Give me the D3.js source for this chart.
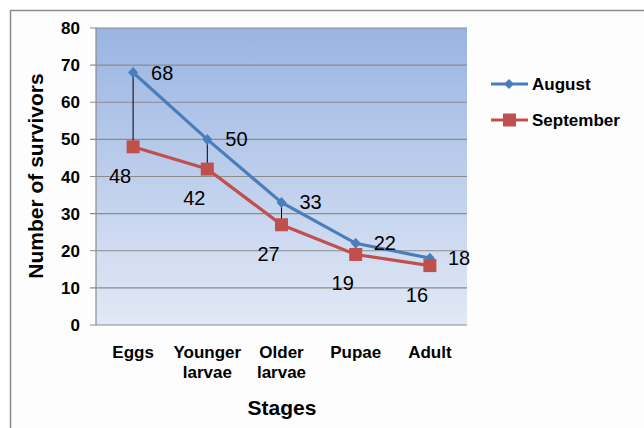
<!DOCTYPE html>
<html>
<head>
<meta charset="utf-8">
<script src="https://cdn.jsdelivr.net/npm/d3@7"></script>
<style>
  body { margin: 0; background: #fff; }
  svg { font-family: "Liberation Sans", Arial, sans-serif; }
</style>
</head>
<body>
<svg id="chart" width="644" height="428"></svg>
<script>
const stages = [["Eggs"], ["Younger", "larvae"], ["Older", "larvae"], ["Pupae"], ["Adult"]];
const august = [68, 50, 33, 22, 18];
const september = [48, 42, 27, 19, 16];
const yTicks = [0, 10, 20, 30, 40, 50, 60, 70, 80];

const svg = d3.select("#chart");
const plotLeft = 96, plotRight = 467, plotTop = 28, plotBottom = 325;

// outer frame
svg.append("rect")
    .attr("x", 10.5).attr("y", 10.5)
    .attr("width", 700).attr("height", 500)
    .attr("fill", "#fdfdfd")
    .attr("stroke", "#8a8a8a").attr("stroke-width", 1.5);

const defs = svg.append("defs");
const grad = defs.append("linearGradient")
    .attr("id", "bg").attr("x1", 0).attr("y1", 0).attr("x2", 0).attr("y2", 1);
grad.append("stop").attr("offset", "0%").attr("stop-color", "#99b4e2");
grad.append("stop").attr("offset", "100%").attr("stop-color", "#e2e9f6");

const x = d3.scaleBand().domain(stages.map((d, i) => i)).range([plotLeft, plotRight]);
const y = d3.scaleLinear().domain([0, 80]).range([plotBottom, plotTop]);

svg.append("rect")
    .attr("x", plotLeft).attr("y", plotTop)
    .attr("width", plotRight - plotLeft).attr("height", plotBottom - plotTop)
    .attr("fill", "url(#bg)");

// gridlines
svg.append("g").selectAll("line")
    .data(yTicks)
    .enter()
    .append("line")
    .attr("x1", plotLeft - 6).attr("x2", plotRight)
    .attr("y1", d => y(d)).attr("y2", d => y(d))
    .attr("stroke", "#8c8c8c").attr("stroke-width", 1.2);

svg.append("line")
    .attr("x1", plotLeft).attr("x2", plotLeft)
    .attr("y1", plotTop).attr("y2", plotBottom)
    .attr("stroke", "#8c8c8c").attr("stroke-width", 1.2);

// y tick labels
svg.append("g").selectAll("text")
    .data(yTicks)
    .enter()
    .append("text")
    .attr("x", 80).attr("y", d => y(d) + 6)
    .attr("text-anchor", "end")
    .attr("font-size", 17).attr("font-weight", "bold")
    .text(d => d);

// x labels
const xl = svg.append("g").selectAll("text")
    .data(stages)
    .enter()
    .append("text")
    .attr("x", (d, i) => x(i) + x.bandwidth() / 2)
    .attr("y", 358)
    .attr("text-anchor", "middle")
    .attr("font-size", 17).attr("font-weight", "bold");
xl.selectAll("tspan")
    .data(d => d)
    .enter()
    .append("tspan")
    .attr("x", function () { return d3.select(this.parentNode).attr("x"); })
    .attr("dy", (d, i) => i === 0 ? 0 : 20)
    .text(d => d);

// axis titles
svg.append("text")
    .attr("x", 282).attr("y", 415)
    .attr("text-anchor", "middle")
    .attr("font-size", 21).attr("font-weight", "bold")
    .text("Stages");

svg.append("text")
    .attr("transform", "translate(43,176) rotate(-90)")
    .attr("text-anchor", "middle")
    .attr("font-size", 21).attr("font-weight", "bold")
    .text("Number of survivors");

const cx = i => x(i) + x.bandwidth() / 2;

// high-low lines
svg.append("g").selectAll("line")
    .data(august)
    .enter()
    .append("line")
    .attr("x1", (d, i) => cx(i)).attr("x2", (d, i) => cx(i))
    .attr("y1", d => y(d)).attr("y2", (d, i) => y(september[i]))
    .attr("stroke", "#000").attr("stroke-width", 1);

const line = d3.line().x((d, i) => cx(i)).y(d => y(d));

svg.append("path").datum(september)
    .attr("d", line).attr("fill", "none")
    .attr("stroke", "#c0504d").attr("stroke-width", 3.2);
svg.append("path").datum(august)
    .attr("d", line).attr("fill", "none")
    .attr("stroke", "#4a7ebb").attr("stroke-width", 3.2);

// markers
svg.append("g").selectAll("path")
    .data(august)
    .enter()
    .append("path")
    .attr("transform", (d, i) => `translate(${cx(i)},${y(d)})`)
    .attr("d", "M0,-5.5L5,0L0,5.5L-5,0Z")
    .attr("fill", "#4a7ebb");

svg.append("g").selectAll("rect")
    .data(september)
    .enter()
    .append("rect")
    .attr("x", (d, i) => cx(i) - 6.5).attr("y", d => y(d) - 6.5)
    .attr("width", 13).attr("height", 13)
    .attr("fill", "#c0504d");

// data labels
svg.append("g").selectAll("text")
    .data(august)
    .enter()
    .append("text")
    .attr("x", (d, i) => cx(i) + 18).attr("y", d => y(d) + 7)
    .attr("font-size", 20)
    .text(d => d);

svg.append("g").selectAll("text")
    .data(september)
    .enter()
    .append("text")
    .attr("x", (d, i) => cx(i) - 13).attr("y", d => y(d) + 36)
    .attr("text-anchor", "middle")
    .attr("font-size", 20)
    .text(d => d);

// legend
const legend = [["August", "#4a7ebb", "diamond"], ["September", "#c0504d", "square"]];
const lg = svg.append("g").selectAll("g")
    .data(legend)
    .enter()
    .append("g")
    .attr("transform", (d, i) => `translate(491,${84 + i * 36})`);
lg.append("line")
    .attr("x1", 0).attr("x2", 37)
    .attr("stroke", d => d[1]).attr("stroke-width", 3);
lg.append("path")
    .attr("d", d => d[2] === "diamond" ? "M18,-5L23,0L18,5L13,0Z" : "M12,-6.5H25V6.5H12Z")
    .attr("fill", d => d[1]);
lg.append("text")
    .attr("x", 41).attr("y", 6)
    .attr("font-size", 17).attr("font-weight", "bold")
    .text(d => d[0]);
</script>
</body>
</html>
